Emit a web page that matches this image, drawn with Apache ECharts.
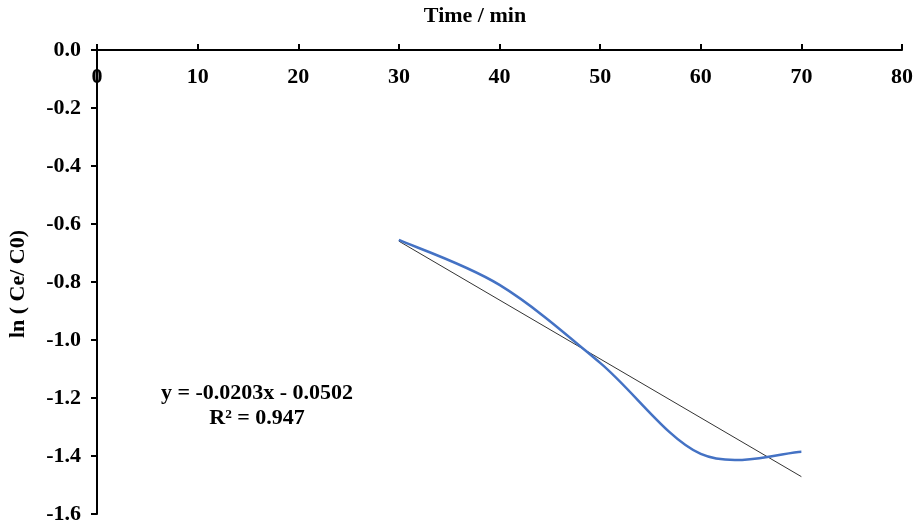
<!DOCTYPE html>
<html><head><meta charset="utf-8">
<script src="https://cdn.jsdelivr.net/npm/echarts@6/dist/echarts.min.js"></script>
<style>html,body{margin:0;padding:0;background:#fff}#c{width:921px;height:528px}</style>
</head><body><div id="c"></div>
<script>
const timeMin = [30, 40, 50, 60, 70];
const lnCeC0 = [-0.655, -0.810, -1.079, -1.393, -1.385];
const trendX = [30, 70];
const trendY = [-0.6592, -1.4712];
const xTicks = [0, 80, 10];
const yTicks = [-1.6, 0, 0.2];
const eqText = 'y = -0.0203x - 0.0502';
const r2Text = 'R² = 0.947';

const font = 'Liberation Serif';
const fs = 22;
const chart = echarts.init(document.getElementById('c'), null, {renderer: 'canvas'});

function smoothPath(api) {
  const pts = timeMin.map((x, i) => api.coord([x, lnCeC0[i]]));
  const n = pts.length;
  let d = 'M' + pts[0][0] + ' ' + pts[0][1];
  for (let i = 0; i < n - 1; i++) {
    const p0 = pts[Math.max(i - 1, 0)], p1 = pts[i], p2 = pts[i + 1], p3 = pts[Math.min(i + 2, n - 1)];
    const c1 = [p1[0] + (p2[0] - p0[0]) / 6, p1[1] + (p2[1] - p0[1]) / 6];
    const c2 = [p2[0] - (p3[0] - p1[0]) / 6, p2[1] - (p3[1] - p1[1]) / 6];
    d += ' C' + c1[0] + ' ' + c1[1] + ' ' + c2[0] + ' ' + c2[1] + ' ' + p2[0] + ' ' + p2[1];
  }
  return d;
}

chart.setOption({
  animation: false,
  backgroundColor: '#fff',
  grid: {left: 97, right: 19, top: 50, bottom: 14},
  xAxis: {
    type: 'value', position: 'top', min: xTicks[0], max: xTicks[1], interval: xTicks[2],
    axisLine: {onZero: false, lineStyle: {color: '#000', width: 2}},
    axisTick: {show: true, inside: false, length: 6, lineStyle: {color: '#000', width: 2}},
    axisLabel: {inside: true, margin: 16, color: '#000', fontFamily: font, fontWeight: 'bold', fontSize: fs},
    splitLine: {show: false}
  },
  yAxis: {
    type: 'value', min: yTicks[0], max: yTicks[1], interval: yTicks[2],
    axisLine: {onZero: false, lineStyle: {color: '#000', width: 2}},
    axisTick: {show: true, inside: false, length: 6, lineStyle: {color: '#000', width: 2}},
    axisLabel: {margin: 16, color: '#000', fontFamily: font, fontWeight: 'bold', fontSize: fs,
      formatter: v => v.toFixed(1)},
    splitLine: {show: false}
  },
  series: [
    {
      type: 'line', data: trendX.map((x, i) => [x, trendY[i]]),
      symbol: 'none', lineStyle: {color: '#333', width: 1}, z: 2
    },
    {
      type: 'custom', data: [[timeMin[0], lnCeC0[0]]], z: 3,
      renderItem: function (params, api) {
        return {type: 'path', shape: {pathData: smoothPath(api)},
          style: {stroke: '#4472C4', lineWidth: 2.5, fill: null}};
      }
    }
  ],
  graphic: [
    {type: 'text', x: 475, y: 16,
      style: {text: 'Time / min', font: 'bold ' + fs + 'px "Liberation Serif"', fill: '#000', align: 'center', verticalAlign: 'middle'}},
    {type: 'text', x: 18, y: 284, rotation: Math.PI / 2,
      style: {text: 'ln ( Ce/ C0)', font: 'bold ' + fs + 'px "Liberation Serif"', fill: '#000', align: 'center', verticalAlign: 'middle'}},
    {type: 'text', x: 257, y: 393,
      style: {text: eqText, font: 'bold ' + fs + 'px "Liberation Serif"', fill: '#000', align: 'center', verticalAlign: 'middle'}},
    {type: 'text', x: 257, y: 418,
      style: {text: r2Text, font: 'bold ' + fs + 'px "Liberation Serif"', fill: '#000', align: 'center', verticalAlign: 'middle'}}
  ]
});
</script></body></html>
